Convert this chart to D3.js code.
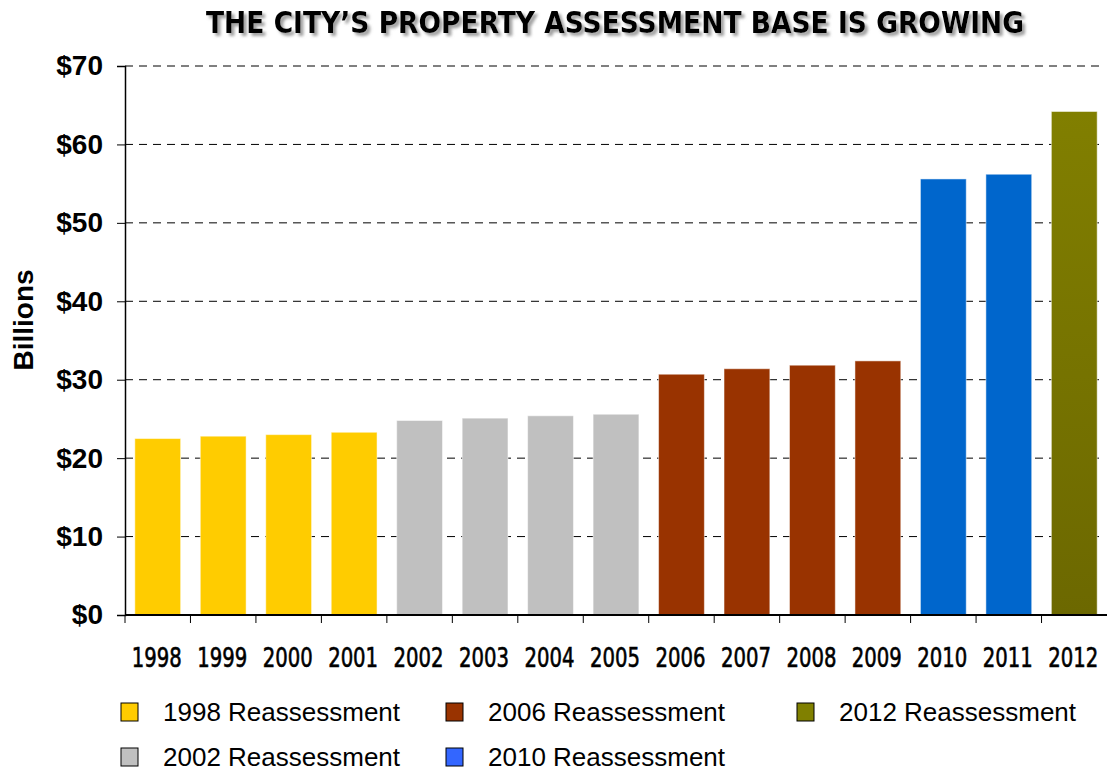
<!DOCTYPE html>
<html>
<head>
<meta charset="utf-8">
<script src="https://cdn.jsdelivr.net/npm/d3@7"></script>
<style>
  body { margin: 0; background: #fff; }
  svg text { font-family: "Liberation Sans", Arial, sans-serif; }
</style>
</head>
<body>
<div id="chart"></div>
<script>
// data (billions of dollars)
const years = ["1998", "1999", "2000", "2001", "2002", "2003", "2004", "2005",
               "2006", "2007", "2008", "2009", "2010", "2011", "2012"];
const values = [22.5, 22.8, 23.0, 23.3, 24.8, 25.1, 25.4, 25.6,
                30.7, 31.4, 31.85, 32.4, 55.6, 56.2, 64.2];
const reassessment = ["1998", "1998", "1998", "1998", "2002", "2002", "2002", "2002",
                      "2006", "2006", "2006", "2006", "2010", "2010", "2012"];
const yTicks = [0, 10, 20, 30, 40, 50, 60, 70];
const legendLabels = ["1998 Reassessment", "2006 Reassessment", "2012 Reassessment",
                      "2002 Reassessment", "2010 Reassessment"];
const legendKeys = ["1998", "2006", "2012", "2002", "2010"];

const barColor = { "1998": "#FFCC00", "2002": "#C0C0C0", "2006": "#993300",
                   "2010": "#0066CC", "2012": "url(#olive)" };
const swatchColor = { "1998": "#FFCC00", "2002": "#C0C0C0", "2006": "#993300",
                      "2010": "#3366FF", "2012": "#808000" };

const W = 1107, H = 772;
const plotLeft = 125, plotRight = 1107, plotTop = 66, plotBottom = 615;
const narrow = "'Liberation Sans Narrow', 'DejaVu Sans Condensed', sans-serif";

const svg = d3.select("#chart").append("svg")
  .attr("width", W).attr("height", H);

const defs = svg.append("defs");
const grad = defs.append("linearGradient").attr("id", "olive")
  .attr("x1", 0).attr("y1", 0).attr("x2", 0).attr("y2", 1);
grad.append("stop").attr("offset", "0%").attr("stop-color", "#817F00");
grad.append("stop").attr("offset", "100%").attr("stop-color", "#6C6800");

const shadow = defs.append("filter").attr("id", "shadow")
  .attr("x", "-5%").attr("y", "-30%").attr("width", "110%").attr("height", "160%");
shadow.append("feDropShadow").attr("dx", 3).attr("dy", 3)
  .attr("stdDeviation", 1.5).attr("flood-color", "#888").attr("flood-opacity", 0.8);

// scales
const x = d3.scaleBand().domain(years).range([plotLeft, plotRight]).paddingInner(0.3).paddingOuter(0.15);
const xEdge = d3.scaleBand().domain(years).range([plotLeft, plotRight]);
const y = d3.scaleLinear().domain([0, 70]).range([plotBottom, plotTop]);

// title
svg.append("text")
  .attr("x", 615).attr("y", 33)
  .attr("text-anchor", "middle")
  .attr("textLength", 818).attr("lengthAdjust", "spacingAndGlyphs")
  .style("font-family", narrow)
  .style("font-weight", "bold").style("font-size", "30px")
  .attr("filter", "url(#shadow)")
  .text("THE CITY\u2019S PROPERTY ASSESSMENT BASE IS GROWING");

// gridlines
svg.append("g")
  .selectAll("line")
  .data(yTicks.filter(d => d > 0))
  .join("line")
    .attr("x1", plotLeft).attr("x2", plotRight - 6)
    .attr("y1", d => y(d)).attr("y2", d => y(d))
    .attr("stroke", "#000").attr("stroke-width", 1)
    .attr("stroke-dasharray", "8,6");

// bars
svg.append("g")
  .selectAll("rect")
  .data(years)
  .join("rect")
    .attr("x", d => x(d))
    .attr("y", (d, i) => y(values[i]))
    .attr("width", x.bandwidth())
    .attr("height", (d, i) => y(0) - y(values[i]))
    .attr("fill", (d, i) => barColor[reassessment[i]])
    .attr("stroke", "#fff").attr("stroke-opacity", 0.5).attr("stroke-width", 1);

// y axis
const yAxis = svg.append("g")
  .attr("transform", `translate(${plotLeft},0)`)
  .call(d3.axisLeft(y).tickValues(yTicks).tickSize(8).tickPadding(14)
    .tickFormat(d => "$" + d));
yAxis.select(".domain").attr("stroke", "#000").attr("stroke-width", 1.5);
yAxis.selectAll(".tick line").attr("stroke", "#000");
yAxis.selectAll(".tick text")
  .style("font-size", "28px").style("font-weight", "bold")
  .style("font-family", "'Liberation Sans', Arial, sans-serif").attr("fill", "#000");

// y axis title
svg.append("text")
  .attr("transform", `translate(33,320) rotate(-90)`)
  .attr("text-anchor", "middle")
  .style("font-size", "28px").style("font-weight", "bold")
  .text("Billions");

// x axis
svg.append("line")
  .attr("x1", plotLeft).attr("x2", plotRight).attr("y1", plotBottom).attr("y2", plotBottom)
  .attr("stroke", "#000").attr("stroke-width", 2);
svg.append("g")
  .selectAll("line")
  .data(years)
  .join("line")
    .attr("x1", d => xEdge(d))
    .attr("x2", d => xEdge(d))
    .attr("y1", plotBottom).attr("y2", plotBottom + 8)
    .attr("stroke", "#000").attr("stroke-width", 1);

svg.append("g")
  .selectAll("text")
  .data(years)
  .join("text")
    .attr("x", d => xEdge(d) + xEdge.bandwidth() / 2 - 1)
    .attr("y", 667)
    .attr("text-anchor", "middle")
    .attr("textLength", 50).attr("lengthAdjust", "spacingAndGlyphs")
    .attr("stroke", "#000").attr("stroke-width", 0.6)
    .style("font-family", narrow)
    .style("font-size", "27px")
    .text(d => d);

// legend
const legendPos = [[121, 712], [446, 712], [797, 712], [121, 757], [446, 757]];
const legend = svg.append("g")
  .selectAll("g")
  .data(legendKeys)
  .join("g")
    .attr("transform", (d, i) => `translate(${legendPos[i][0]},${legendPos[i][1]})`);
legend.append("rect")
  .attr("x", 0).attr("y", -9).attr("width", 17).attr("height", 18)
  .attr("fill", d => swatchColor[d]).attr("stroke", "#000").attr("stroke-width", 1);
legend.append("text")
  .attr("x", 42).attr("y", 9)
  .style("font-size", "26px")
  .text((d, i) => legendLabels[i]);
</script>
</body>
</html>
